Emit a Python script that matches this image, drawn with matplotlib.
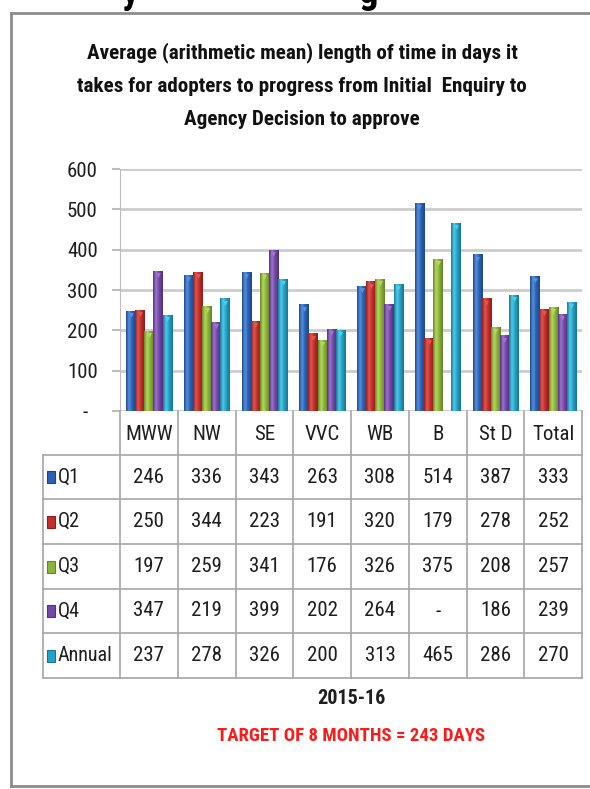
import numpy as np
import matplotlib.pyplot as plt
import matplotlib.transforms as mtransforms
from matplotlib.colors import LinearSegmentedColormap
from matplotlib.patches import Rectangle

# adopter timeliness, days from initial enquiry to agency decision
regions = ["MWW", "NW", "SE", "VVC", "WB", "B", "St D", "Total"]
series = ["Q1", "Q2", "Q3", "Q4", "Annual"]
q1 = [246, 336, 343, 263, 308, 514, 387, 333]
q2 = [250, 344, 223, 191, 320, 179, 278, 252]
q3 = [197, 259, 341, 176, 326, 375, 208, 257]
q4 = [347, 219, 399, 202, 264, None, 186, 239]   # no Q4 figure for B
annual = [237, 278, 326, 200, 313, 465, 286, 270]
y_ticks = [0, 100, 200, 300, 400, 500, 600]
y_tick_labels = ["-  ", "100", "200", "300", "400", "500", "600"]
title_lines = ["Average (arithmetic mean) length of time in days it",
               "takes for adopters to progress from Initial  Enquiry to",
               "Agency Decision to approve"]
period = "2015-16"
target_note = "TARGET OF 8 MONTHS = 243 DAYS"

values = [q1, q2, q3, q4, annual]
# (dark edge, highlight, body) for the shaded cylinder look
shades = [("#1c468a", "#5592de", "#2b62b5"),
          ("#8c1d1a", "#e4574f", "#c2302c"),
          ("#62832a", "#b6da5e", "#8db43a"),
          ("#51307c", "#9f75d0", "#7448a6"),
          ("#167490", "#55cbea", "#24a3c6")]

plt.rcParams['font.family'] = ['Roboto Condensed', 'DejaVu Sans']
txt_c = "#1e1e1e"
fs = 15

W, H = 590, 789
fig = plt.figure(figsize=(W / 100, H / 100), dpi=100)

# full-figure overlay in pixel units for frame, table and captions
ov = fig.add_axes([0, 0, 1, 1], zorder=5)
ov.set_xlim(0, W)
ov.set_ylim(H, 0)
ov.axis("off")

x_left, x_right, y_top, y_zero = 120, 582, 169, 411
ax = fig.add_axes([x_left / W, 1 - y_zero / H,
                   (x_right - x_left) / W, (y_zero - y_top) / H], zorder=2)

bar_w = 0.1575
grad = np.linspace(0, 1, 64)[np.newaxis, :]
for j, (vals, (dark, light, body)) in enumerate(zip(values, shades)):
    cmap = LinearSegmentedColormap.from_list(
        series[j], [(0, dark), (0.3, light), (0.6, body), (1, dark)])
    for i, v in enumerate(vals):
        if v is None:
            continue
        xc = i + (j - 2) * bar_w
        ax.imshow(grad, cmap=cmap, extent=(xc - bar_w / 2, xc + bar_w / 2, 0, v),
                  aspect="auto", interpolation="bicubic", zorder=3)
        ax.plot(xc, v - 9, marker="v", ms=3.5, color=light, mec="none", zorder=4)

ax.set_xlim(-0.5, len(regions) - 0.5)
ax.set_ylim(0, 600)
ax.set_yticks(y_ticks)
ax.set_yticklabels(y_tick_labels, fontsize=fs, color=txt_c)
ax.set_xticks([])
ax.yaxis.grid(True, color="#cccccc", lw=2)
ax.set_axisbelow(True)
for s in ["top", "right", "bottom"]:
    ax.spines[s].set_visible(False)
ax.spines["left"].set_color("#bdbdbd")
ax.tick_params(axis="y", length=6, width=1.5, color="#bdbdbd", pad=10)

# data table under the chart
trans = mtransforms.blended_transform_factory(ax.transData, ov.transData)
row_lines = [455, 499, 544, 589, 633, 678]
grid_c = "#a6a6a6"
for y in row_lines:
    ov.plot([43, x_right], [y, y], color=grid_c, lw=1.2)
ov.plot([43, 43], [455, 678], color=grid_c, lw=1.2)
for i in range(len(regions) + 1):
    ov.plot([i - 0.5, i - 0.5], [y_zero, 678], color=grid_c, lw=1.2, transform=trans)

for i, name in enumerate(regions):
    ov.text(i, 434, name, transform=trans, ha="center", va="center",
            fontsize=fs, color=txt_c)
for j, (vals, (dark, light, body)) in enumerate(zip(values, shades)):
    yc = (row_lines[j] + row_lines[j + 1]) / 2
    ov.add_patch(Rectangle((47, yc - 6), 8, 12, facecolor=body, edgecolor=dark, lw=0.8))
    ov.text(58, yc, series[j], ha="left", va="center", fontsize=14.5, color=txt_c)
    for i, v in enumerate(vals):
        ov.text(i, yc, "-" if v is None else str(v), transform=trans,
                ha="center", va="center", fontsize=fs, color=txt_c)

# captions: one text per title line so the spacing is fixed in pixels
for line, y in zip(title_lines, [53, 86, 119]):
    ov.text(302, y, line, ha="center", va="center", fontsize=15.2,
            fontweight="bold", color="#111111")
ov.text(351, 698, period, ha="center", va="center", fontsize=14.5,
        fontweight="bold", color=txt_c)
ov.text(351, 736, target_note, ha="center", va="center", fontsize=13.5,
        fontweight="bold", color="#ff1a1a")

# frame around the chart, open on the right
fc = "#8c8c8c"
ov.plot([11, W], [13, 13], color=fc, lw=2)
ov.plot([11, 11], [13, 786], color=fc, lw=2)
ov.plot([11, W], [786, 786], color=fc, lw=2)

# descenders of the page heading above the frame
ov.text(130, 3, "y", ha="center", va="baseline", fontsize=28, fontweight="bold",
        color="black")
ov.text(369, 3, "g", ha="center", va="baseline", fontsize=28, fontweight="bold",
        color="black")

fig.savefig("out.png", dpi=100)
